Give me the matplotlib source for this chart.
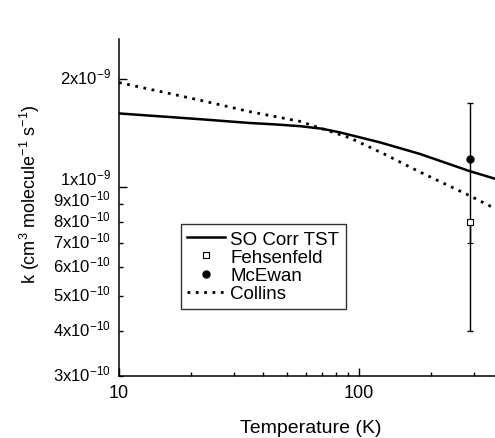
import matplotlib

matplotlib.use("Agg")

import matplotlib.pyplot as plt
import matplotlib.transforms as mtransforms
from matplotlib.lines import Line2D
from matplotlib.ticker import FixedLocator, FixedFormatter, NullFormatter

plt.rcParams["font.family"] = ["Liberation Sans", "DejaVu Sans"]
plt.rcParams["mathtext.fontset"] = "custom"
plt.rcParams["mathtext.rm"] = "Liberation Sans"
plt.rcParams["mathtext.default"] = "regular"

# SO Corr TST curve
tst_T = [10, 21.8, 35.1, 45, 56.7, 70, 83.3, 122, 179, 290, 369, 400]
tst_k = [1.604e-9, 1.546e-9, 1.509e-9, 1.495e-9, 1.479e-9, 1.455e-9, 1.421e-9,
         1.334e-9, 1.239e-9, 1.109e-9, 1.057e-9, 1.04e-9]

# Collins curve
col_T = [10, 21.8, 35.1, 56.7, 91.7, 127, 176.6, 224.5, 288, 365, 400]
col_k = [1.954e-9, 1.745e-9, 1.622e-9, 1.525e-9, 1.372e-9, 1.239e-9, 1.109e-9,
         1.028e-9, 0.950e-9, 0.877e-9, 0.85e-9]

# measurements
meas_T = 290
fehs_k = 8.0e-10
fehs_lo = 7.0e-10
mcewan_k = 1.2e-9
mcewan_lo = 4.0e-10
mcewan_hi = 1.71e-9

x_major = [10, 100]
x_minor = [20, 30, 40, 50, 60, 70, 80, 90, 200, 300]
y_major = [1e-9, 2e-9]
y_major_labels = ["1x10$^{-9}$", "2x10$^{-9}$"]
y_minor = [3e-10, 4e-10, 5e-10, 6e-10, 7e-10, 8e-10, 9e-10]
y_minor_labels = ["%dx10$^{-10}$" % i for i in range(3, 10)]

fig = plt.figure(figsize=(4.95, 4.39), dpi=100)
ax = fig.add_axes([119 / 495, 1 - 377 / 439, 384.5 / 495, 337 / 439])

ax.plot(tst_T, tst_k, color="black", lw=1.8, solid_capstyle="butt")
ax.plot(col_T, col_k, color="black", lw=2.0, linestyle=(0, (1, 2)),
        dash_capstyle="butt")

ax.errorbar([meas_T], [mcewan_k],
            yerr=[[mcewan_k - mcewan_lo], [mcewan_hi - mcewan_k]],
            fmt="o", color="black", ms=5, elinewidth=1.0, capsize=2.2,
            capthick=1.0)
ax.errorbar([meas_T], [fehs_k], yerr=[[fehs_k - fehs_lo], [0]],
            fmt="s", color="black", mfc="white", ms=5, mew=0.8,
            elinewidth=1.0, capsize=2.2, capthick=1.0)

ax.set_xscale("log")
ax.set_yscale("log")
ax.set_xlim(10, 400)
ax.set_ylim(3e-10, 2.58e-9)

ax.xaxis.set_major_locator(FixedLocator(x_major))
ax.xaxis.set_major_formatter(FixedFormatter(["10", "100"]))
ax.xaxis.set_minor_locator(FixedLocator(x_minor))
ax.xaxis.set_minor_formatter(NullFormatter())
ax.yaxis.set_major_locator(FixedLocator(y_major))
ax.yaxis.set_major_formatter(FixedFormatter(y_major_labels))
ax.yaxis.set_minor_locator(FixedLocator(y_minor))
ax.yaxis.set_minor_formatter(FixedFormatter(y_minor_labels))

ax.tick_params(which="both", direction="in", width=1.0, colors="black")
ax.tick_params(which="major", length=6)
ax.tick_params(which="minor", length=3)
ax.tick_params(axis="y", which="both", pad=6, labelsize=12)
ax.tick_params(axis="x", which="both", pad=6, labelsize=13)

for side in ("top", "right"):
    ax.spines[side].set_visible(False)
for side in ("left", "bottom"):
    ax.spines[side].set_linewidth(1.1)

ax.set_xlabel("Temperature (K)", fontsize=14)
ax.set_ylabel("k (cm$^{3}$ molecule$^{-1}$ s$^{-1}$)", fontsize=13)
ax.xaxis.set_label_coords(0.5, -0.128)
ax.yaxis.set_label_coords(-0.2, 0.543)

handles = [
    Line2D([], [], color="black", lw=1.8),
    Line2D([], [], color="black", marker="s", mfc="white", ms=5, mew=0.8, ls="none"),
    Line2D([], [], color="black", marker="o", ms=5, ls="none"),
    Line2D([], [], color="black", lw=2.0, linestyle=(0, (1, 2))),
]
labels = ["SO Corr TST", "Fehsenfeld", "McEwan", "Collins"]
leg = ax.legend(handles, labels, loc="upper left", bbox_to_anchor=(0.161, 0.451),
                borderaxespad=0, fontsize=13.5, frameon=True, fancybox=False,
                edgecolor="black", handlelength=2.0, handletextpad=0.27,
                labelspacing=0.06, borderpad=0.35)
leg.get_frame().set_linewidth(1.0)

# sit the y labels on their baseline, a little below the tick
shift = mtransforms.ScaledTranslation(0, -3 / 72, fig.dpi_scale_trans)
for lbl in ax.get_yticklabels(which="both"):
    lbl.set_verticalalignment("baseline")
    lbl.set_transform(lbl.get_transform() + shift)

# the y labels are packed tightly; push any that collide upward a little
fig.canvas.draw()
renderer = fig.canvas.get_renderer()
ylabels = [t.label1 for t in ax.yaxis.get_minor_ticks()[:len(y_minor)]]
ylabels += [t.label1 for t in ax.yaxis.get_major_ticks()[:len(y_major)]]
ylabels.sort(key=lambda t: t.get_window_extent(renderer).y0)
top = None
for lbl in ylabels:
    box = lbl.get_window_extent(renderer)
    if top is not None and box.y0 < top + 1:
        dy = (top + 1 - box.y0) / fig.dpi
        lbl.set_transform(lbl.get_transform()
                          + mtransforms.ScaledTranslation(0, dy, fig.dpi_scale_trans))
        box = lbl.get_window_extent(renderer)
    top = box.y1

fig.savefig("out.png", dpi=100)
